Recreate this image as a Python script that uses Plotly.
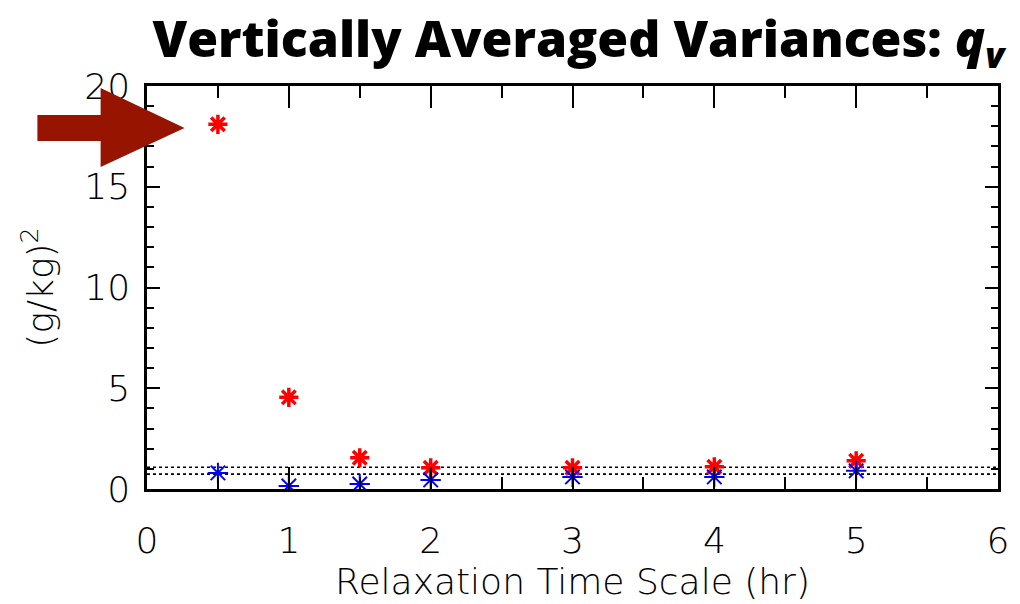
import plotly.graph_objects as go

# ---- data ----
tau_hr = [0.5, 1, 1.5, 2, 3, 4, 5]
red_var = [18.1, 4.55, 1.55, 1.05, 1.05, 1.1, 1.4]
blue_var = [0.8, 0.15, 0.25, 0.45, 0.6, 0.6, 0.9]
ref_levels = [1.08, 0.74]
x_ticks = [0, 1, 2, 3, 4, 5, 6]
y_ticks = [0, 5, 10, 15, 20]

W, H = 1020, 604
L, R, T, B = 147, 11, 86, 115
PW, PH = W - L - R, H - T - B

def px(x, y):
    return (x - L) / PW, (H - B - y) / PH

fig = go.Figure()

for lvl in ref_levels:
    fig.add_trace(go.Scatter(x=[0, 6], y=[lvl, lvl], mode="lines",
                             line=dict(color="black", width=1.6, dash="dot"),
                             showlegend=False, hoverinfo="skip"))

fig.add_trace(go.Scatter(x=tau_hr, y=red_var, mode="markers",
                         marker=dict(symbol="asterisk-open", size=16, color="#ff0000",
                                     line=dict(color="#ff0000", width=3.5)),
                         showlegend=False))
fig.add_trace(go.Scatter(x=tau_hr, y=blue_var, mode="markers",
                         marker=dict(symbol="asterisk-open", size=17, color="#0000ff",
                                     line=dict(color="#0000ff", width=2)),
                         showlegend=False))

# arrow (decoration)
pts = [(36, 115), (100, 115), (100, 88), (185, 128), (100, 167), (100, 141), (36, 141)]
path = "M " + " L ".join(f"{px(a, b)[0]:.4f},{px(a, b)[1]:.4f}" for a, b in pts) + " Z"
fig.add_shape(type="path", xref="paper", yref="paper", path=path,
              fillcolor="#961400", line=dict(width=0), layer="above")

tick_font = dict(family="DejaVu Sans ExtraLight, DejaVu Sans", size=36, color="black", weight=200)

fig.update_layout(
    width=W, height=H,
    margin=dict(l=L, r=R, t=T, b=B, pad=0),
    paper_bgcolor="white", plot_bgcolor="white",
    title=dict(text="Vertically Averaged Variances: <i>q</i><sub><i>v</i></sub>",
               font=dict(family="Open Sans", size=50, color="black", weight=800),
               x=0.567, xanchor="center", y=0.905, yanchor="bottom"),
    xaxis=dict(range=[0, 6], tickvals=x_ticks, ticktext=[str(v) for v in x_ticks],
               ticks="inside", ticklen=22, tickwidth=2, tickcolor="black",
               showline=True, linecolor="black", linewidth=2.5, mirror="allticks",
               showgrid=False, zeroline=False, tickfont=tick_font, ticklabelstandoff=18,
               minor=dict(dtick=0.5, ticks="inside", ticklen=12, tickwidth=2, tickcolor="black"),
               title=dict(text="Relaxation Time Scale (hr)", font=tick_font, standoff=4)),
    yaxis=dict(range=[0, 20], tickvals=y_ticks, ticktext=[str(v) for v in y_ticks],
               ticks="inside", ticklen=13, tickwidth=2, tickcolor="black",
               showline=True, linecolor="black", linewidth=2.5, mirror="allticks",
               showgrid=False, zeroline=False, tickfont=tick_font, ticklabelstandoff=7,
               minor=dict(dtick=1, ticks="inside", ticklen=7, tickwidth=2, tickcolor="black"),
               title=dict(text="(g/kg)<sup>2</sup>", font=tick_font, standoff=20)),
)

fig.write_html("out.html")
